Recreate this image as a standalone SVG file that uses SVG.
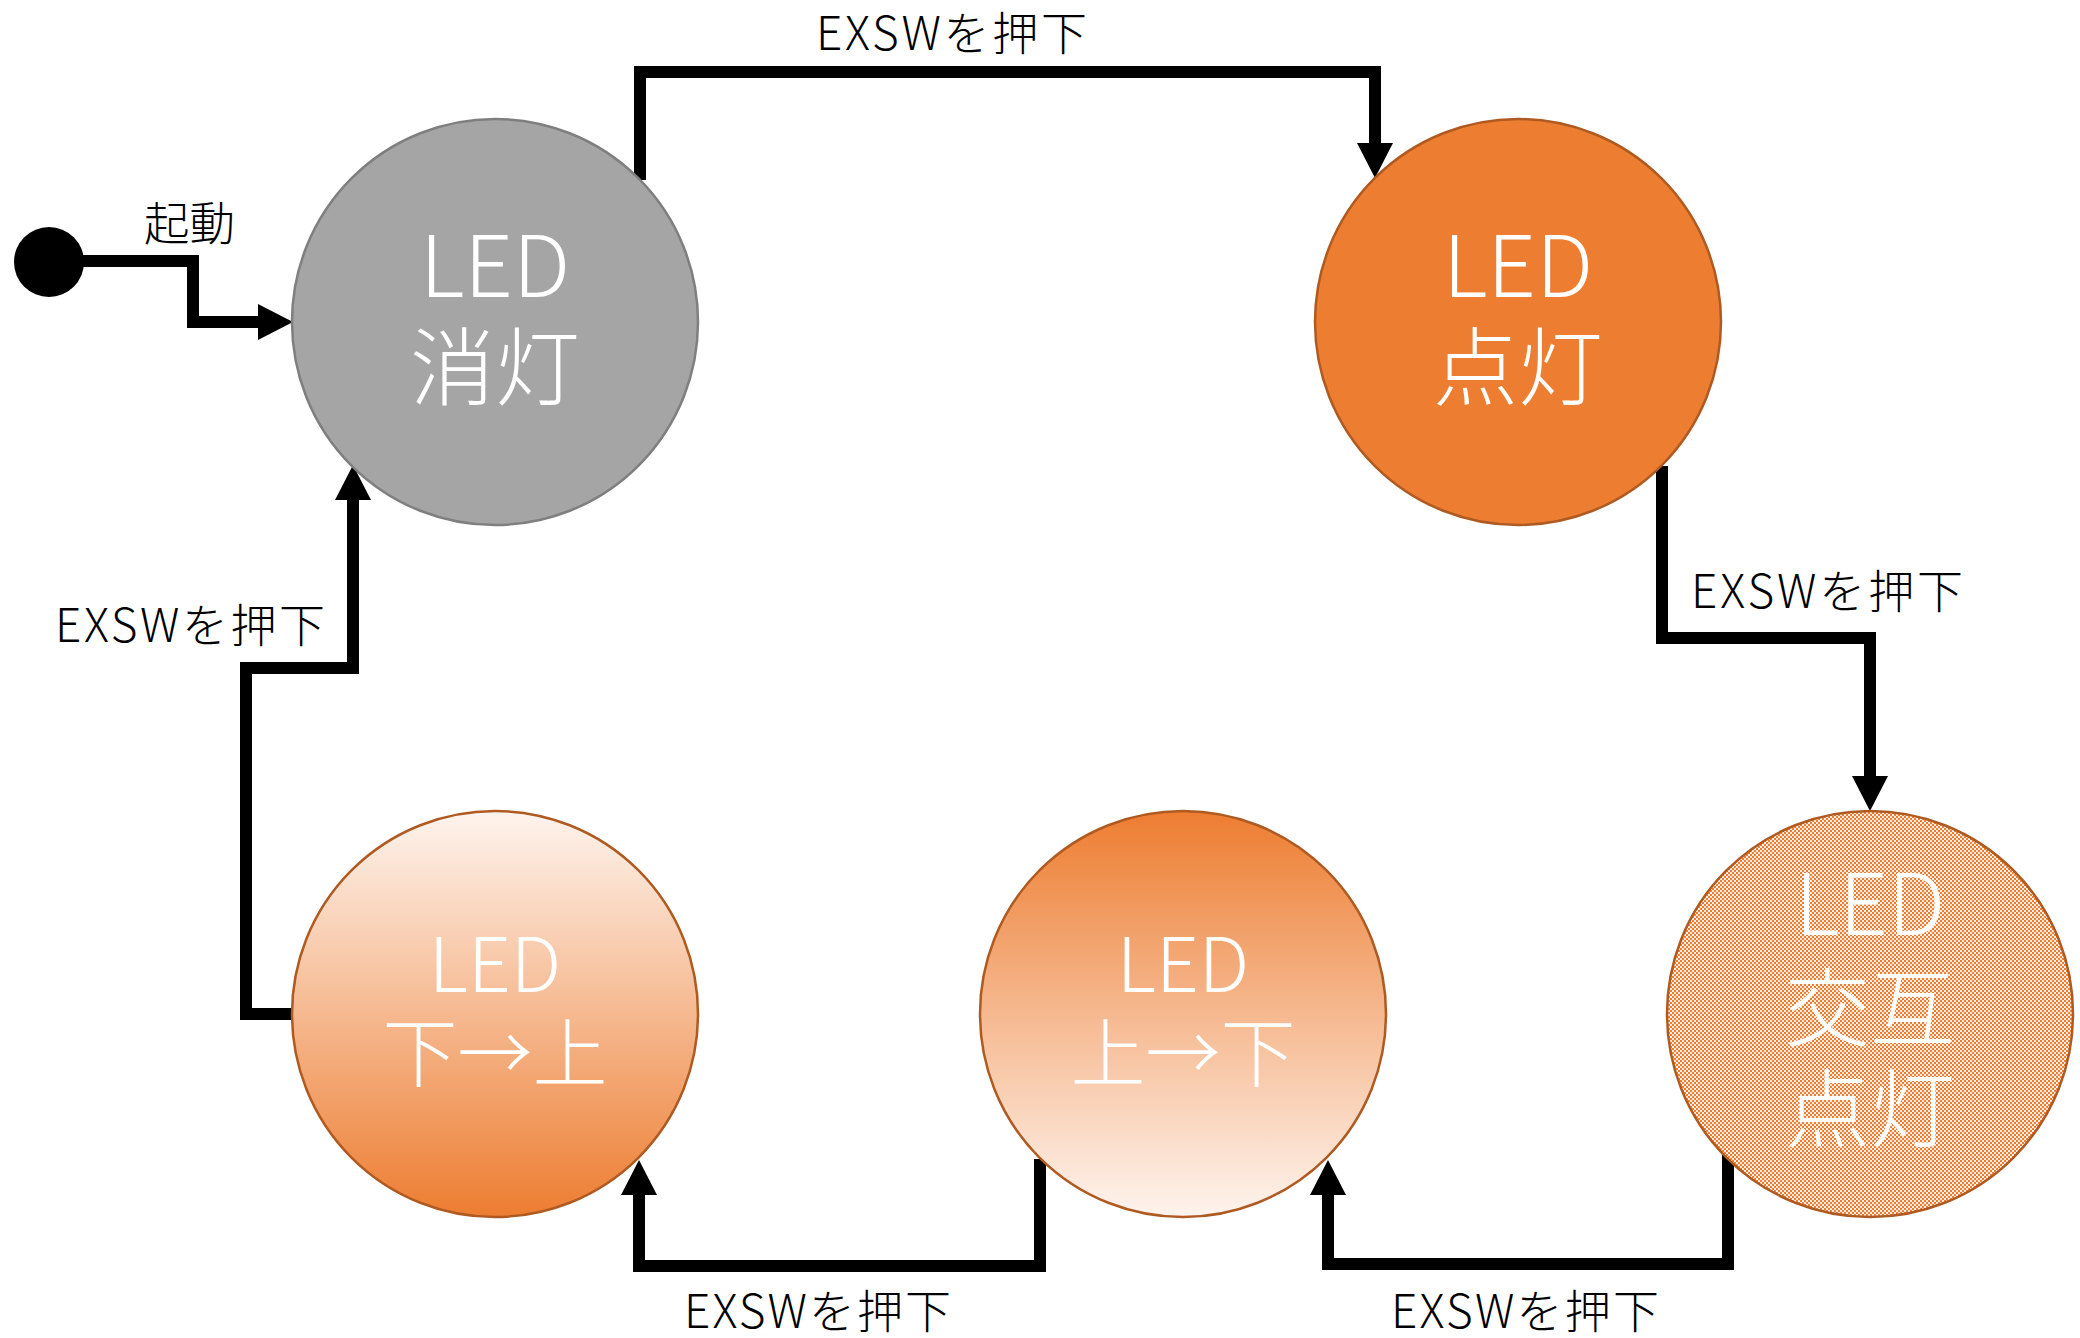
<svg xmlns="http://www.w3.org/2000/svg" width="2080" height="1338" viewBox="0 0 2080 1338">
<style>
.lbl{font-family:"Noto Sans CJK JP Light","Noto Sans CJK JP","Noto Sans",sans-serif;font-size:46px;font-weight:300;fill:#000}
.ntx{font-family:"Noto Sans CJK JP Light","Noto Sans CJK JP","Noto Sans",sans-serif;fill:#fff;font-weight:300;text-anchor:middle}
.big{font-size:85px}
.mid{font-size:75px}
.conn{fill:none;stroke:#000;stroke-width:12;stroke-linejoin:miter;stroke-linecap:butt;marker-end:url(#ah)}
.orng{stroke:#AE5A21;stroke-width:2.5}
</style>
<defs>
<marker id="ah" markerUnits="userSpaceOnUse" viewBox="0 0 35 36" refX="0" refY="18" markerWidth="35" markerHeight="36" orient="auto">
<path d="M0,0 L35,18 L0,36 Z" fill="#000"/>
</marker>
<linearGradient id="gDown" x1="0" y1="0" x2="0" y2="1">
<stop offset="0" stop-color="#ED7D31"/>
<stop offset="1" stop-color="#FEF4EE"/>
</linearGradient>
<linearGradient id="gUp" x1="0" y1="0" x2="0" y2="1">
<stop offset="0" stop-color="#FEF4EE"/>
<stop offset="1" stop-color="#ED7D31"/>
</linearGradient>
<pattern id="chk" patternUnits="userSpaceOnUse" width="4" height="4">
<rect width="4" height="4" fill="#FDEDE2"/>
<rect x="0" y="0" width="2" height="2" fill="#ED7D31"/>
<rect x="2" y="2" width="2" height="2" fill="#ED7D31"/>
</pattern>
</defs>

<g id="connectors">
<path class="conn" d="M49,261 H193 V322 H258"/>
<path class="conn" d="M640,180 V72 H1375 V143"/>
<path class="conn" d="M1662,466 V638 H1870 V776"/>
<path class="conn" d="M1728,1155 V1264 H1328 V1195"/>
<path class="conn" d="M1040,1159 V1266 H639 V1195"/>
<path class="conn" d="M293,1014 H246 V668 H353 V500"/>
</g>

<g id="start">
<circle cx="49" cy="262" r="35" fill="#000"/>
</g>

<g id="node-off">
<circle cx="495" cy="322" r="203" fill="#A5A5A5" stroke="#7F7F7F" stroke-width="2.5"/>
<text class="ntx big" x="495" y="297">LED</text>
<text class="ntx big" x="495" y="399">消灯</text>
</g>

<g id="node-on">
<circle class="orng" cx="1518" cy="322" r="203" fill="#ED7D31"/>
<text class="ntx big" x="1518" y="297">LED</text>
<text class="ntx big" x="1518" y="399">点灯</text>
</g>

<g id="node-alt">
<circle class="orng" cx="1870" cy="1014" r="203" fill="url(#chk)"/>
<text class="ntx big" x="1870" y="935">LED</text>
<text class="ntx big" x="1870" y="1040">交互</text>
<text class="ntx big" x="1870" y="1141">点灯</text>
</g>

<g id="node-topdown">
<circle class="orng" cx="1183" cy="1014" r="203" fill="url(#gDown)"/>
<text class="ntx mid" x="1183" y="992">LED</text>
<text class="ntx mid" x="1183" y="1081">上→下</text>
</g>

<g id="node-bottomup">
<circle class="orng" cx="495" cy="1014" r="203" fill="url(#gUp)"/>
<text class="ntx mid" x="495" y="992">LED</text>
<text class="ntx mid" x="495" y="1081">下→上</text>
</g>

<g id="labels">
<text class="lbl" x="144" y="240" textLength="91" lengthAdjust="spacingAndGlyphs">起動</text>
<text class="lbl" x="816" y="50" textLength="271" lengthAdjust="spacing">EXSWを押下</text>
<text class="lbl" x="1691" y="608" textLength="272" lengthAdjust="spacing">EXSWを押下</text>
<text class="lbl" x="55" y="642" textLength="270" lengthAdjust="spacing">EXSWを押下</text>
<text class="lbl" x="684" y="1328" textLength="267" lengthAdjust="spacing">EXSWを押下</text>
<text class="lbl" x="1391" y="1328" textLength="268" lengthAdjust="spacing">EXSWを押下</text>
</g>
</svg>
